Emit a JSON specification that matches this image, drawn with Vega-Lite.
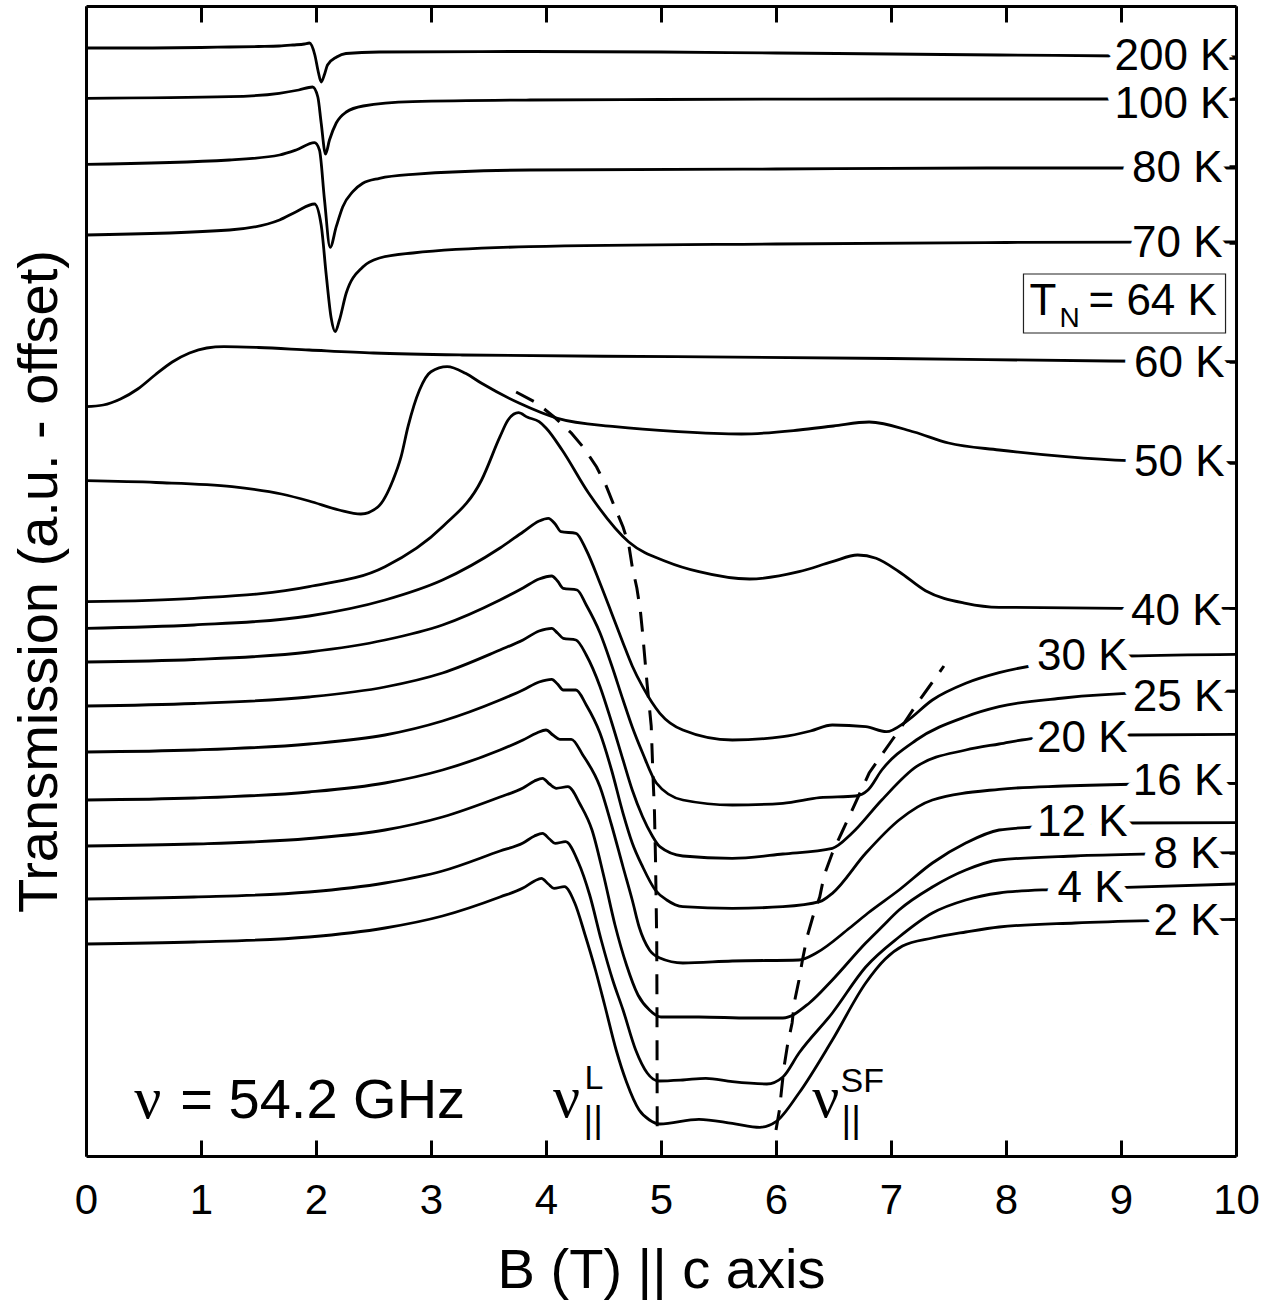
{
  "$schema": "https://vega.github.io/schema/vega-lite/v6.json",
  "width": 1150,
  "height": 1150,
  "autosize": {"type": "none"},
  "padding": {"left": 86, "top": 6, "right": 44, "bottom": 147},
  "background": "white",
  "config": {
    "view": {"stroke": null},
    "font": "Liberation Sans",
    "axis": {"zindex": 1, "grid": false, "domainColor": "black", "domainWidth": 3, "tickColor": "black", "tickWidth": 3, "labelColor": "black", "titleColor": "black", "labelFont": "Liberation Sans", "titleFont": "Liberation Sans", "titleFontWeight": "normal", "labelFlush": false, "labelOverlap": false}
  },
  "datasets": {
    "curves": [
      {"T":"200 K","B":0,"v":1108},{"T":"200 K","B":0.5,"v":1108},{"T":"200 K","B":1.0,"v":1108.5},{"T":"200 K","B":1.25,"v":1109},{"T":"200 K","B":1.5,"v":1109.5},{"T":"200 K","B":1.68,"v":1110},{"T":"200 K","B":1.8,"v":1111},{"T":"200 K","B":1.9,"v":1112},{"T":"200 K","B":1.943,"v":1113},{"T":"200 K","B":1.99,"v":1101},{"T":"200 K","B":2.02,"v":1084},{"T":"200 K","B":2.045,"v":1074},{"T":"200 K","B":2.075,"v":1082},{"T":"200 K","B":2.1,"v":1091},{"T":"200 K","B":2.18,"v":1099},{"T":"200 K","B":2.26,"v":1102.5},{"T":"200 K","B":2.55,"v":1104},{"T":"200 K","B":3.86,"v":1104.5},{"T":"200 K","B":5,"v":1104},{"T":"200 K","B":6,"v":1103},{"T":"200 K","B":7,"v":1102},{"T":"200 K","B":7.94,"v":1101},{"T":"200 K","B":9,"v":1100},{"T":"200 K","B":10,"v":1099},

      {"T":"100 K","B":0,"v":1057.7},{"T":"100 K","B":1.25,"v":1059.3},{"T":"100 K","B":1.68,"v":1062.7},{"T":"100 K","B":1.85,"v":1066},{"T":"100 K","B":1.97,"v":1069},{"T":"100 K","B":2.016,"v":1059},{"T":"100 K","B":2.045,"v":1033},{"T":"100 K","B":2.083,"v":1002},{"T":"100 K","B":2.117,"v":1016},{"T":"100 K","B":2.176,"v":1033},{"T":"100 K","B":2.263,"v":1044},{"T":"100 K","B":2.41,"v":1050},{"T":"100 K","B":2.84,"v":1054.3},{"T":"100 K","B":3.86,"v":1056},{"T":"100 K","B":5,"v":1056.5},{"T":"100 K","B":7,"v":1057},{"T":"100 K","B":10,"v":1057},

      {"T":"80 K","B":0,"v":991.7},{"T":"80 K","B":1.248,"v":996},{"T":"80 K","B":1.683,"v":1001},{"T":"80 K","B":1.828,"v":1006},{"T":"80 K","B":1.987,"v":1013.3},{"T":"80 K","B":2.03,"v":1006},{"T":"80 K","B":2.074,"v":956},{"T":"80 K","B":2.123,"v":908.7},{"T":"80 K","B":2.176,"v":929.3},{"T":"80 K","B":2.233,"v":949.3},{"T":"80 K","B":2.32,"v":964.3},{"T":"80 K","B":2.407,"v":972.7},{"T":"80 K","B":2.552,"v":977.7},{"T":"80 K","B":2.842,"v":981.7},{"T":"80 K","B":3.857,"v":986},{"T":"80 K","B":6,"v":987},{"T":"80 K","B":8,"v":988},{"T":"80 K","B":10,"v":988},

      {"T":"70 K","B":0,"v":921},{"T":"70 K","B":1.248,"v":926},{"T":"70 K","B":1.683,"v":936},{"T":"70 K","B":1.828,"v":944.3},{"T":"70 K","B":1.987,"v":952},{"T":"70 K","B":2.045,"v":931},{"T":"70 K","B":2.089,"v":881},{"T":"70 K","B":2.132,"v":838},{"T":"70 K","B":2.167,"v":824.3},{"T":"70 K","B":2.204,"v":836},{"T":"70 K","B":2.263,"v":863},{"T":"70 K","B":2.407,"v":889},{"T":"70 K","B":2.552,"v":898},{"T":"70 K","B":2.842,"v":903},{"T":"70 K","B":3.857,"v":909.3},{"T":"70 K","B":6,"v":912},{"T":"70 K","B":8,"v":913.5},{"T":"70 K","B":10,"v":914},

      {"T":"60 K","B":0,"v":749.3},{"T":"60 K","B":0.15,"v":751},{"T":"60 K","B":0.3,"v":757},{"T":"60 K","B":0.45,"v":767},{"T":"60 K","B":0.6,"v":781},{"T":"60 K","B":0.75,"v":794},{"T":"60 K","B":0.9,"v":803},{"T":"60 K","B":1.05,"v":808},{"T":"60 K","B":1.2,"v":809.3},{"T":"60 K","B":1.5,"v":808.5},{"T":"60 K","B":1.94,"v":806},{"T":"60 K","B":2.5,"v":803},{"T":"60 K","B":3.27,"v":801},{"T":"60 K","B":5.13,"v":799.3},{"T":"60 K","B":7,"v":797.5},{"T":"60 K","B":8.9,"v":795},{"T":"60 K","B":10,"v":794.3},

      {"T":"50 K","B":0,"v":675.3},{"T":"50 K","B":0.61,"v":673.5},{"T":"50 K","B":1.27,"v":669.3},{"T":"50 K","B":1.7,"v":662},{"T":"50 K","B":1.94,"v":655},{"T":"50 K","B":2.2,"v":646},{"T":"50 K","B":2.39,"v":642},{"T":"50 K","B":2.54,"v":649.3},{"T":"50 K","B":2.67,"v":676},{"T":"50 K","B":2.74,"v":699.3},{"T":"50 K","B":2.8,"v":729.3},{"T":"50 K","B":2.9,"v":766},{"T":"50 K","B":3.0,"v":784.3},{"T":"50 K","B":3.14,"v":789.3},{"T":"50 K","B":3.3,"v":782.7},{"T":"50 K","B":3.44,"v":772.7},{"T":"50 K","B":3.77,"v":752.7},{"T":"50 K","B":4.1,"v":737.7},{"T":"50 K","B":4.6,"v":729.3},{"T":"50 K","B":5.15,"v":724.3},{"T":"50 K","B":5.7,"v":722},{"T":"50 K","B":6.2,"v":726},{"T":"50 K","B":6.5,"v":730},{"T":"50 K","B":6.81,"v":734},{"T":"50 K","B":7.2,"v":724},{"T":"50 K","B":7.5,"v":713},{"T":"50 K","B":7.94,"v":706},{"T":"50 K","B":8.52,"v":699.3},{"T":"50 K","B":9.07,"v":695.3},{"T":"50 K","B":10,"v":693.3},

      {"T":"40 K","B":0,"v":554.3},{"T":"40 K","B":0.94,"v":557.7},{"T":"40 K","B":1.94,"v":569.3},{"T":"40 K","B":2.6,"v":589.3},{"T":"40 K","B":3.1,"v":629.3},{"T":"40 K","B":3.44,"v":676},{"T":"40 K","B":3.6,"v":719.3},{"T":"40 K","B":3.67,"v":736},{"T":"40 K","B":3.76,"v":743.3},{"T":"40 K","B":3.84,"v":738.7},{"T":"40 K","B":3.94,"v":734.3},{"T":"40 K","B":4.0,"v":728},{"T":"40 K","B":4.14,"v":706},{"T":"40 K","B":4.37,"v":663},{"T":"40 K","B":4.72,"v":614},{"T":"40 K","B":5.05,"v":594.3},{"T":"40 K","B":5.33,"v":584.3},{"T":"40 K","B":5.77,"v":577},{"T":"40 K","B":6.2,"v":584.3},{"T":"40 K","B":6.49,"v":594.3},{"T":"40 K","B":6.71,"v":601},{"T":"40 K","B":6.87,"v":597.7},{"T":"40 K","B":7.07,"v":584.3},{"T":"40 K","B":7.3,"v":565.3},{"T":"40 K","B":7.65,"v":552.7},{"T":"40 K","B":7.94,"v":548.7},{"T":"40 K","B":9,"v":547.7},{"T":"40 K","B":10,"v":547.7},

      {"T":"30 K","B":0,"v":527.7},{"T":"30 K","B":0.94,"v":531},{"T":"30 K","B":1.94,"v":540},{"T":"30 K","B":2.6,"v":556},{"T":"30 K","B":3.1,"v":576},{"T":"30 K","B":3.6,"v":608},{"T":"30 K","B":3.8,"v":624},{"T":"30 K","B":3.94,"v":635},{"T":"30 K","B":4.02,"v":637.7},{"T":"30 K","B":4.08,"v":632},{"T":"30 K","B":4.13,"v":624.3},{"T":"30 K","B":4.26,"v":622.7},{"T":"30 K","B":4.35,"v":606},{"T":"30 K","B":4.47,"v":572.7},{"T":"30 K","B":4.57,"v":543},{"T":"30 K","B":4.67,"v":513},{"T":"30 K","B":4.75,"v":490},{"T":"30 K","B":4.84,"v":469.3},{"T":"30 K","B":4.99,"v":442.7},{"T":"30 K","B":5.19,"v":426},{"T":"30 K","B":5.62,"v":416},{"T":"30 K","B":6.06,"v":419.3},{"T":"30 K","B":6.3,"v":425},{"T":"30 K","B":6.49,"v":431},{"T":"30 K","B":6.78,"v":429.3},{"T":"30 K","B":6.96,"v":424.3},{"T":"30 K","B":7.13,"v":434.3},{"T":"30 K","B":7.36,"v":456},{"T":"30 K","B":7.65,"v":472.7},{"T":"30 K","B":7.94,"v":483.3},{"T":"30 K","B":8.26,"v":491},{"T":"30 K","B":9.07,"v":500},{"T":"30 K","B":10,"v":501.7},

      {"T":"25 K","B":0,"v":494},{"T":"25 K","B":0.94,"v":496.5},{"T":"25 K","B":1.94,"v":504},{"T":"25 K","B":2.6,"v":516},{"T":"25 K","B":3.1,"v":531},{"T":"25 K","B":3.6,"v":556},{"T":"25 K","B":3.8,"v":568},{"T":"25 K","B":3.94,"v":577},{"T":"25 K","B":4.05,"v":580},{"T":"25 K","B":4.1,"v":575},{"T":"25 K","B":4.15,"v":567.7},{"T":"25 K","B":4.27,"v":566},{"T":"25 K","B":4.35,"v":551},{"T":"25 K","B":4.47,"v":523},{"T":"25 K","B":4.57,"v":491},{"T":"25 K","B":4.67,"v":456},{"T":"25 K","B":4.75,"v":429},{"T":"25 K","B":4.84,"v":403},{"T":"25 K","B":4.96,"v":373},{"T":"25 K","B":5.19,"v":356},{"T":"25 K","B":5.62,"v":351},{"T":"25 K","B":6.06,"v":352.7},{"T":"25 K","B":6.38,"v":358.3},{"T":"25 K","B":6.69,"v":360},{"T":"25 K","B":6.8,"v":366},{"T":"25 K","B":6.92,"v":386},{"T":"25 K","B":7.22,"v":416},{"T":"25 K","B":7.65,"v":439.3},{"T":"25 K","B":7.94,"v":449.3},{"T":"25 K","B":8.5,"v":458},{"T":"25 K","B":9.2,"v":463.3},{"T":"25 K","B":10,"v":465},

      {"T":"20 K","B":0,"v":450},{"T":"20 K","B":0.94,"v":452.5},{"T":"20 K","B":1.94,"v":459},{"T":"20 K","B":2.6,"v":469},{"T":"20 K","B":3.1,"v":483},{"T":"20 K","B":3.6,"v":506},{"T":"20 K","B":3.8,"v":516},{"T":"20 K","B":3.94,"v":525},{"T":"20 K","B":4.05,"v":527.7},{"T":"20 K","B":4.1,"v":523},{"T":"20 K","B":4.15,"v":517.7},{"T":"20 K","B":4.26,"v":516},{"T":"20 K","B":4.35,"v":501},{"T":"20 K","B":4.47,"v":469.3},{"T":"20 K","B":4.57,"v":434},{"T":"20 K","B":4.67,"v":396},{"T":"20 K","B":4.75,"v":366},{"T":"20 K","B":4.84,"v":339.3},{"T":"20 K","B":4.92,"v":321},{"T":"20 K","B":4.99,"v":309.3},{"T":"20 K","B":5.19,"v":300},{"T":"20 K","B":5.62,"v":297.7},{"T":"20 K","B":6.06,"v":302},{"T":"20 K","B":6.49,"v":307.7},{"T":"20 K","B":6.66,"v":322.7},{"T":"20 K","B":6.92,"v":356},{"T":"20 K","B":7.22,"v":389.3},{"T":"20 K","B":7.65,"v":406},{"T":"20 K","B":7.94,"v":412},{"T":"20 K","B":8.25,"v":417.7},{"T":"20 K","B":9.07,"v":421},{"T":"20 K","B":10,"v":421.7},

      {"T":"16 K","B":0,"v":404},{"T":"16 K","B":0.94,"v":406},{"T":"16 K","B":1.94,"v":412},{"T":"16 K","B":2.6,"v":421},{"T":"16 K","B":3.1,"v":435},{"T":"16 K","B":3.6,"v":456},{"T":"16 K","B":3.8,"v":466},{"T":"16 K","B":3.94,"v":474},{"T":"16 K","B":4.05,"v":476.7},{"T":"16 K","B":4.1,"v":472},{"T":"16 K","B":4.15,"v":466},{"T":"16 K","B":4.26,"v":466},{"T":"16 K","B":4.35,"v":451},{"T":"16 K","B":4.47,"v":422.7},{"T":"16 K","B":4.57,"v":386},{"T":"16 K","B":4.67,"v":342.7},{"T":"16 K","B":4.75,"v":313},{"T":"16 K","B":4.84,"v":289.3},{"T":"16 K","B":4.95,"v":266},{"T":"16 K","B":5.05,"v":256},{"T":"16 K","B":5.19,"v":249.3},{"T":"16 K","B":5.62,"v":247.7},{"T":"16 K","B":6.06,"v":249.3},{"T":"16 K","B":6.38,"v":254.3},{"T":"16 K","B":6.49,"v":262.7},{"T":"16 K","B":6.78,"v":302.7},{"T":"16 K","B":7.07,"v":336},{"T":"16 K","B":7.36,"v":356},{"T":"16 K","B":7.94,"v":366.7},{"T":"16 K","B":8.5,"v":370},{"T":"16 K","B":9.2,"v":372},{"T":"16 K","B":10,"v":372.7},

      {"T":"12 K","B":0,"v":356},{"T":"12 K","B":0.94,"v":358},{"T":"12 K","B":1.94,"v":364},{"T":"12 K","B":2.6,"v":373},{"T":"12 K","B":3.1,"v":386},{"T":"12 K","B":3.6,"v":406},{"T":"12 K","B":3.8,"v":416},{"T":"12 K","B":3.92,"v":423},{"T":"12 K","B":4.0,"v":426},{"T":"12 K","B":4.06,"v":421},{"T":"12 K","B":4.12,"v":416.7},{"T":"12 K","B":4.22,"v":416.7},{"T":"12 K","B":4.32,"v":401},{"T":"12 K","B":4.47,"v":369},{"T":"12 K","B":4.57,"v":331},{"T":"12 K","B":4.67,"v":289},{"T":"12 K","B":4.75,"v":256},{"T":"12 K","B":4.81,"v":229},{"T":"12 K","B":4.9,"v":206},{"T":"12 K","B":4.99,"v":198},{"T":"12 K","B":5.19,"v":193},{"T":"12 K","B":5.62,"v":195},{"T":"12 K","B":6.2,"v":196},{"T":"12 K","B":6.35,"v":203},{"T":"12 K","B":6.64,"v":228},{"T":"12 K","B":6.8,"v":243},{"T":"12 K","B":7.07,"v":266},{"T":"12 K","B":7.36,"v":293},{"T":"12 K","B":7.65,"v":313},{"T":"12 K","B":7.94,"v":326},{"T":"12 K","B":8.25,"v":329},{"T":"12 K","B":9.07,"v":333},{"T":"12 K","B":10,"v":333.3},

      {"T":"8 K","B":0,"v":310},{"T":"8 K","B":0.94,"v":312},{"T":"8 K","B":1.94,"v":317.5},{"T":"8 K","B":2.6,"v":326},{"T":"8 K","B":3.1,"v":339},{"T":"8 K","B":3.6,"v":359},{"T":"8 K","B":3.8,"v":368},{"T":"8 K","B":3.9,"v":375},{"T":"8 K","B":3.97,"v":377.7},{"T":"8 K","B":4.03,"v":372},{"T":"8 K","B":4.09,"v":367.7},{"T":"8 K","B":4.19,"v":369.3},{"T":"8 K","B":4.3,"v":351},{"T":"8 K","B":4.4,"v":326},{"T":"8 K","B":4.5,"v":281},{"T":"8 K","B":4.6,"v":231},{"T":"8 K","B":4.7,"v":191},{"T":"8 K","B":4.8,"v":161},{"T":"8 K","B":4.9,"v":146},{"T":"8 K","B":5.0,"v":139},{"T":"8 K","B":5.33,"v":139},{"T":"8 K","B":5.77,"v":138},{"T":"8 K","B":6.06,"v":138},{"T":"8 K","B":6.29,"v":153},{"T":"8 K","B":6.49,"v":176},{"T":"8 K","B":6.78,"v":213},{"T":"8 K","B":6.92,"v":229},{"T":"8 K","B":7.07,"v":246},{"T":"8 K","B":7.36,"v":269},{"T":"8 K","B":7.65,"v":286},{"T":"8 K","B":7.94,"v":296},{"T":"8 K","B":8.6,"v":300},{"T":"8 K","B":9.27,"v":302},{"T":"8 K","B":10,"v":303.3},

      {"T":"4 K","B":0,"v":257},{"T":"4 K","B":0.94,"v":259},{"T":"4 K","B":1.94,"v":264},{"T":"4 K","B":2.6,"v":273},{"T":"4 K","B":3.1,"v":285},{"T":"4 K","B":3.6,"v":305},{"T":"4 K","B":3.8,"v":313},{"T":"4 K","B":3.9,"v":320},{"T":"4 K","B":3.97,"v":322.7},{"T":"4 K","B":4.03,"v":317},{"T":"4 K","B":4.08,"v":312.7},{"T":"4 K","B":4.17,"v":314.3},{"T":"4 K","B":4.28,"v":294},{"T":"4 K","B":4.38,"v":261},{"T":"4 K","B":4.48,"v":216},{"T":"4 K","B":4.58,"v":176},{"T":"4 K","B":4.67,"v":146},{"T":"4 K","B":4.78,"v":106},{"T":"4 K","B":4.88,"v":83},{"T":"4 K","B":4.98,"v":75},{"T":"4 K","B":5.19,"v":76},{"T":"4 K","B":5.39,"v":77.7},{"T":"4 K","B":5.62,"v":74.3},{"T":"4 K","B":5.92,"v":72},{"T":"4 K","B":6.06,"v":79},{"T":"4 K","B":6.2,"v":103},{"T":"4 K","B":6.49,"v":143},{"T":"4 K","B":6.78,"v":189},{"T":"4 K","B":7.07,"v":219},{"T":"4 K","B":7.36,"v":243},{"T":"4 K","B":7.65,"v":256},{"T":"4 K","B":7.94,"v":263},{"T":"4 K","B":8.42,"v":266.7},{"T":"4 K","B":9.05,"v":268.7},{"T":"4 K","B":10,"v":272},

      {"T":"2 K","B":0,"v":212},{"T":"2 K","B":0.94,"v":214},{"T":"2 K","B":1.94,"v":219},{"T":"2 K","B":2.6,"v":228},{"T":"2 K","B":3.1,"v":240},{"T":"2 K","B":3.6,"v":259},{"T":"2 K","B":3.8,"v":268},{"T":"2 K","B":3.9,"v":275},{"T":"2 K","B":3.96,"v":277.7},{"T":"2 K","B":4.02,"v":272},{"T":"2 K","B":4.07,"v":267.7},{"T":"2 K","B":4.16,"v":269.3},{"T":"2 K","B":4.25,"v":253},{"T":"2 K","B":4.34,"v":221},{"T":"2 K","B":4.43,"v":186},{"T":"2 K","B":4.51,"v":151},{"T":"2 K","B":4.61,"v":106},{"T":"2 K","B":4.7,"v":74},{"T":"2 K","B":4.81,"v":46},{"T":"2 K","B":4.9,"v":36},{"T":"2 K","B":4.99,"v":32},{"T":"2 K","B":5.33,"v":36.7},{"T":"2 K","B":5.62,"v":32.7},{"T":"2 K","B":5.86,"v":28.7},{"T":"2 K","B":6.0,"v":34.3},{"T":"2 K","B":6.2,"v":63},{"T":"2 K","B":6.49,"v":116},{"T":"2 K","B":6.78,"v":173},{"T":"2 K","B":6.95,"v":197},{"T":"2 K","B":7.1,"v":210},{"T":"2 K","B":7.36,"v":218},{"T":"2 K","B":7.65,"v":224},{"T":"2 K","B":7.94,"v":229},{"T":"2 K","B":8.6,"v":233},{"T":"2 K","B":9.27,"v":235.3},{"T":"2 K","B":10,"v":236.7}
    ],
    "dashes": [
      {"d":"L","B":3.74,"v":764},{"d":"L","B":3.92,"v":753},{"d":"L","B":4.07,"v":739},{"d":"L","B":4.22,"v":723},{"d":"L","B":4.33,"v":708},{"d":"L","B":4.44,"v":689},{"d":"L","B":4.52,"v":671},{"d":"L","B":4.59,"v":651},{"d":"L","B":4.67,"v":629},{"d":"L","B":4.72,"v":611},{"d":"L","B":4.75,"v":589},{"d":"L","B":4.79,"v":568},{"d":"L","B":4.82,"v":546},{"d":"L","B":4.84,"v":523},{"d":"L","B":4.88,"v":471},{"d":"L","B":4.915,"v":430},{"d":"L","B":4.93,"v":381},{"d":"L","B":4.943,"v":345},{"d":"L","B":4.952,"v":298},{"d":"L","B":4.958,"v":253},{"d":"L","B":4.963,"v":214},{"d":"L","B":4.965,"v":150},{"d":"L","B":4.967,"v":26},
      {"d":"SF","B":6.0,"v":26},{"d":"SF","B":6.03,"v":46},{"d":"SF","B":6.05,"v":68},{"d":"SF","B":6.07,"v":89},{"d":"SF","B":6.1,"v":111},{"d":"SF","B":6.14,"v":133},{"d":"SF","B":6.16,"v":154},{"d":"SF","B":6.2,"v":176},{"d":"SF","B":6.23,"v":196},{"d":"SF","B":6.27,"v":219},{"d":"SF","B":6.32,"v":239},{"d":"SF","B":6.38,"v":259},{"d":"SF","B":6.42,"v":281},{"d":"SF","B":6.49,"v":303},{"d":"SF","B":6.57,"v":323},{"d":"SF","B":6.65,"v":343},{"d":"SF","B":6.73,"v":363},{"d":"SF","B":6.81,"v":383},{"d":"SF","B":6.9,"v":398},{"d":"SF","B":7.01,"v":416},{"d":"SF","B":7.12,"v":434},{"d":"SF","B":7.23,"v":453},{"d":"SF","B":7.33,"v":469},{"d":"SF","B":7.46,"v":490}
    ],
    "labels": [
      {"lab":"200 K","B":9.943,"v":1099},{"lab":"100 K","B":9.943,"v":1051},{"lab":"80 K","B":9.883,"v":987.3},{"lab":"70 K","B":9.883,"v":912},{"lab":"60 K","B":9.9,"v":792},{"lab":"50 K","B":9.9,"v":693.5},{"lab":"40 K","B":9.874,"v":544},{"lab":"30 K","B":9.057,"v":499},{"lab":"25 K","B":9.89,"v":458},{"lab":"20 K","B":9.057,"v":417},{"lab":"16 K","B":9.89,"v":374},{"lab":"12 K","B":9.057,"v":333},{"lab":"8 K","B":9.857,"v":301},{"lab":"4 K","B":9.022,"v":267},{"lab":"2 K","B":9.857,"v":234}
    ]
  },
  "resolve": {"axis": {"x": "independent", "y": "independent"}},
  "layer": [
    {
      "data": {"name": "curves"},
      "mark": {"type": "line", "color": "black", "strokeWidth": 2.8, "interpolate": "monotone"},
      "encoding": {
        "x": {"field": "B", "type": "quantitative", "scale": {"domain": [0, 10], "nice": false, "zero": false},
              "axis": {"orient": "bottom", "zindex": 2, "values": [0,1,2,3,4,5,6,7,8,9,10], "tickSize": -16, "labelPadding": 40, "labelFontSize": 42, "title": "B (T) || c axis", "titleFontSize": 56, "titlePadding": 22}},
        "y": {"field": "v", "type": "quantitative", "scale": {"domain": [0, 1150], "nice": false, "zero": false},
              "axis": {"orient": "left", "zindex": 2, "ticks": false, "labels": false, "title": "Transmission (a.u. - offset)", "titleFontSize": 56, "titlePadding": 18}},
        "detail": {"field": "T", "type": "nominal"}
      }
    },
    {
      "data": {"name": "dashes"},
      "mark": {"type": "line", "color": "black", "strokeWidth": 3, "strokeDash": [20, 13], "interpolate": "linear"},
      "encoding": {
        "x": {"field": "B", "type": "quantitative", "axis": null},
        "y": {"field": "v", "type": "quantitative", "axis": null},
        "detail": {"field": "d", "type": "nominal"}
      }
    },
    {
      "data": {"name": "labels"},
      "mark": {"type": "text", "align": "right", "baseline": "middle", "fontSize": 44, "font": "Liberation Sans", "fill": "white", "stroke": "white", "strokeWidth": 22, "strokeJoin": "round"},
      "encoding": {
        "x": {"field": "B", "type": "quantitative", "axis": {"orient": "top", "zindex": 2, "values": [0,1,2,3,4,5,6,7,8,9,10], "tickSize": -16, "labels": false, "title": null}},
        "y": {"field": "v", "type": "quantitative", "axis": {"orient": "right", "zindex": 2, "values": [1097.7,1057,990,913,794.3,693.3,547.7,465,372.7,303.3,236.7], "tickSize": -7, "tickWidth": 2.5, "labels": false, "title": null}},
        "text": {"field": "lab"}
      }
    },
    {
      "data": {"name": "labels"},
      "mark": {"type": "text", "align": "right", "baseline": "middle", "fontSize": 44, "font": "Liberation Sans", "color": "black"},
      "encoding": {
        "x": {"field": "B", "type": "quantitative", "axis": null},
        "y": {"field": "v", "type": "quantitative", "axis": null},
        "text": {"field": "lab"}
      }
    },
    {
      "data": {"values": [{"B1": 8.152, "B2": 9.909, "v1": 882, "v2": 823}]},
      "mark": {"type": "rect", "fill": "white", "stroke": "#222222", "strokeWidth": 1.2},
      "encoding": {
        "x": {"field": "B1", "type": "quantitative", "axis": null},
        "x2": {"field": "B2"},
        "y": {"field": "v1", "type": "quantitative", "axis": null},
        "y2": {"field": "v2"}
      }
    },
    {
      "data": {"values": [{"t": "T", "B": 8.204, "v": 841}, {"t": "= 64 K", "B": 8.717, "v": 841}]},
      "mark": {"type": "text", "align": "left", "baseline": "alphabetic", "fontSize": 44, "font": "Liberation Sans", "color": "black"},
      "encoding": {
        "x": {"field": "B", "type": "quantitative", "axis": null},
        "y": {"field": "v", "type": "quantitative", "axis": null},
        "text": {"field": "t"}
      }
    },
    {
      "data": {"values": [{"t": "N", "B": 8.465, "v": 829}]},
      "mark": {"type": "text", "align": "left", "baseline": "alphabetic", "fontSize": 28, "font": "Liberation Sans", "color": "black"},
      "encoding": {
        "x": {"field": "B", "type": "quantitative", "axis": null},
        "y": {"field": "v", "type": "quantitative", "axis": null},
        "text": {"field": "t"}
      }
    },
    {
      "data": {"values": [{"t": "ν", "B": 0.42, "v": 38}, {"t": "ν", "B": 4.06, "v": 39}, {"t": "ν", "B": 6.316, "v": 39}]},
      "mark": {"type": "text", "align": "left", "baseline": "alphabetic", "fontSize": 60, "font": "Liberation Serif", "color": "black"},
      "encoding": {
        "x": {"field": "B", "type": "quantitative", "axis": null},
        "y": {"field": "v", "type": "quantitative", "axis": null},
        "text": {"field": "t"}
      }
    },
    {
      "data": {"values": [{"t": "= 54.2 GHz", "B": 0.82, "v": 38}]},
      "mark": {"type": "text", "align": "left", "baseline": "alphabetic", "fontSize": 56, "font": "Liberation Sans", "color": "black"},
      "encoding": {
        "x": {"field": "B", "type": "quantitative", "axis": null},
        "y": {"field": "v", "type": "quantitative", "axis": null},
        "text": {"field": "t"}
      }
    },
    {
      "data": {"values": [{"t": "L", "B": 4.335, "v": 67}, {"t": "SF", "B": 6.561, "v": 64}]},
      "mark": {"type": "text", "align": "left", "baseline": "alphabetic", "fontSize": 34, "font": "Liberation Sans", "color": "black"},
      "encoding": {
        "x": {"field": "B", "type": "quantitative", "axis": null},
        "y": {"field": "v", "type": "quantitative", "axis": null},
        "text": {"field": "t"}
      }
    },
    {
      "data": {"values": [{"t": "||", "B": 4.327, "v": 24}, {"t": "||", "B": 6.57, "v": 24}]},
      "mark": {"type": "text", "align": "left", "baseline": "alphabetic", "fontSize": 37, "font": "Liberation Sans", "color": "black"},
      "encoding": {
        "x": {"field": "B", "type": "quantitative", "axis": null},
        "y": {"field": "v", "type": "quantitative", "axis": null},
        "text": {"field": "t"}
      }
    }
  ]
}
